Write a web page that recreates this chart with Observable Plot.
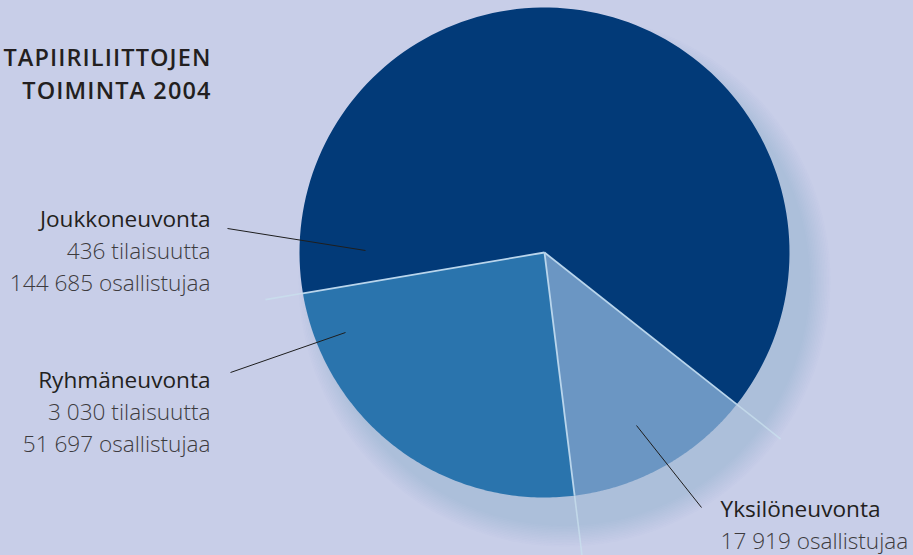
<!DOCTYPE html>
<html><head><meta charset="utf-8">
<script src="https://cdn.jsdelivr.net/npm/d3@7"></script>
<script src="https://cdn.jsdelivr.net/npm/@observablehq/plot@0.6"></script>
<style>
html,body{margin:0;padding:0;background:#c8cee8;}
#chart{width:913px;height:555px;overflow:hidden}
</style></head><body><div id="chart"></div>
<script>
// ---- data ----
const names = ["Joukkoneuvonta", "Ryhmäneuvonta", "Yksilöneuvonta"];
const events = [436, 3030, null];            // tilaisuutta
const participants = [144685, 51697, 17919]; // osallistujaa
const sliceShare = [63.3, 24.3, 12.4];       // slice sizes as drawn (%)
const colors = ["#023a78", "#2a74ad", "#6b96c3"];
const titleLines = ["TAPIIRILIITTOJEN", "TOIMINTA 2004"];

// ---- layout ----
const W = 913, H = 555;
const cx = 544, cy = 252, R = 245;
const startDeg = 128.3;
const labelPos = [
  {x: 210, y: 226, anchor: "end", lx1: 227, ly1: 228, lx2: 365, ly2: 250},
  {x: 210, y: 387, anchor: "end", lx1: 230, ly1: 372, lx2: 345, ly2: 332},
  {x: 720, y: 516, anchor: "start", lx1: 701, ly1: 507, lx2: 636, ly2: 425}
];
const lineGap = 32;
const outerExt = [56, 38, 70];
const FONT = "'Open Sans', Lato, sans-serif";
const FS = 22.6;

const loc = d3.formatLocale({thousands: " ", grouping: [3], decimal: ","});
const fmt = loc.format(",");

const rows = names.map((n, i) => ({name: n, events: events[i], participants: participants[i], share: sliceShare[i], i}));

const rad = Math.PI / 180;
const pie = d3.pie().sort(null).value(d => d.share)
  .startAngle(startDeg * rad).endAngle((startDeg - 360) * rad);
const arcs = pie(rows);

const pt = (a, r) => ({x: cx + r * Math.sin(a), y: cy - r * Math.cos(a)});

const slicePts = [];
arcs.forEach(a => {
  const n = 120;
  slicePts.push({name: a.data.name, ...pt(0, 0)});
  for (let k = 0; k <= n; k++) {
    const ang = a.startAngle + (a.endAngle - a.startAngle) * k / n;
    slicePts.push({name: a.data.name, ...pt(ang, R)});
  }
});

const bounds = arcs.map((a, i) => {
  const p0 = pt(a.startAngle, 0), p1 = pt(a.startAngle, R), p2 = pt(a.startAngle, R + outerExt[i]);
  return {x0: p0.x, y0: p0.y, x1: p1.x, y1: p1.y, x2: p2.x, y2: p2.y};
});

// soft drop shadow rings (offset down-right)
const shadow = d3.range(0, 14).map(k => ({r: 266 - k * 1.6}));

const textRows = [];
rows.forEach((d, i) => {
  const L = labelPos[i];
  textRows.push({x: L.x, y: L.y, t: d.name, kind: "name", anchor: L.anchor});
  let k = 1;
  if (d.events != null) textRows.push({x: L.x, y: L.y + lineGap * k++, t: fmt(d.events) + " tilaisuutta", kind: "num", anchor: L.anchor});
  textRows.push({x: L.x, y: L.y + lineGap * k++, t: fmt(d.participants) + " osallistujaa", kind: "num", anchor: L.anchor});
});
const titleRows = titleLines.map((t, i) => ({t, x: 211, y: 65 + 33 * i}));

const textMarks = [];
for (const anchor of ["start", "end"]) {
  textMarks.push(Plot.text(textRows.filter(d => d.kind === "name" && d.anchor === anchor), {x: "x", y: "y", text: "t", textAnchor: anchor, lineAnchor: "bottom", fontSize: FS, fill: "#231f20", fontWeight: 400, fontFamily: FONT}));
  textMarks.push(Plot.text(textRows.filter(d => d.kind === "num" && d.anchor === anchor), {x: "x", y: "y", text: "t", textAnchor: anchor, lineAnchor: "bottom", fontSize: FS, fill: "#3d3b3e", fontWeight: 300, fontFamily: FONT}));
}

const plot = Plot.plot({
  width: W, height: H,
  margin: 0,
  x: {domain: [0, W], range: [0, W], axis: null},
  y: {domain: [0, H], range: [0, H], axis: null},
  r: {type: "identity"},
  color: {domain: names, range: colors},
  style: {background: "#c8cee8", fontFamily: FONT, overflow: "hidden"},
  marks: [
    Plot.dot(shadow, {x: () => cx + 20, y: () => cy + 28, r: "r", fill: "#7f8cc8", fillOpacity: 0.018, stroke: null}),
    Plot.line(slicePts, {x: "x", y: "y", z: "name", fill: "name", stroke: null}),
    Plot.link(bounds, {x1: "x1", y1: "y1", x2: "x2", y2: "y2", stroke: "#c9e0ee", strokeWidth: 1.6, strokeOpacity: 0.75}),
    Plot.link(bounds, {x1: "x0", y1: "y0", x2: "x1", y2: "y1", stroke: "#b9d5ec", strokeWidth: 1.8}),
    Plot.link(labelPos, {x1: "lx1", y1: "ly1", x2: "lx2", y2: "ly2", stroke: "#1e1e1e", strokeWidth: 1}),
    ...textMarks,
    Plot.text(titleRows, {x: "x", y: "y", text: "t", textAnchor: "end", lineAnchor: "bottom", fontSize: 23.5, fill: "#231f20", fontWeight: 600, fontFamily: FONT})
  ]
});
d3.select(plot).selectAll("text").filter(function() { return titleLines.includes(this.textContent); })
  .style("letter-spacing", "1.1px");
document.getElementById("chart").appendChild(plot);
</script></body></html>
